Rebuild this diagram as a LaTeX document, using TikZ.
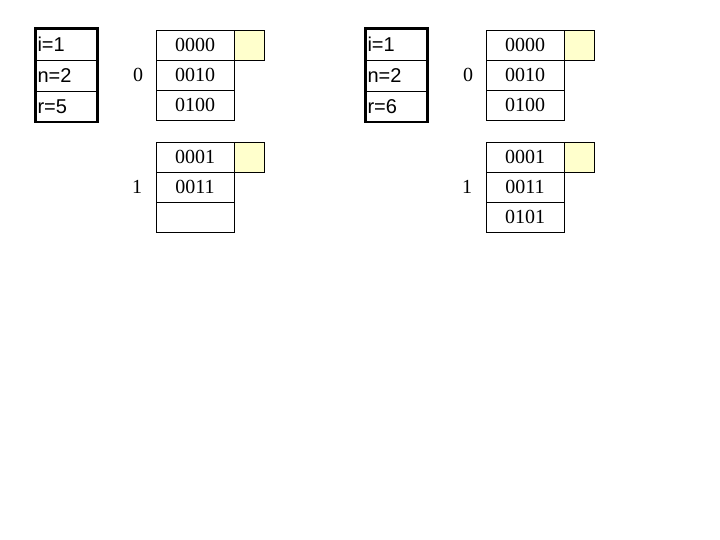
\documentclass[tikz,border=0pt]{standalone}
\usepackage{fontspec}
\setmainfont{Liberation Serif}
\setsansfont{Liberation Sans}
\definecolor{cellyellow}{RGB}{255,255,204}
\begin{document}
\begin{tikzpicture}[
  x=1pt, y=-1pt,
  cell/.style={
    draw,
    minimum width=78pt,
    minimum height=30pt,
    inner sep=0pt,
    font=\fontsize{20}{22}\selectfont
  },
  flag/.style={
    draw,
    fill=cellyellow,
    minimum width=30pt,
    minimum height=30pt,
    inner sep=0pt
  },
  reg/.style={
    draw,
    minimum width=62pt,
    minimum height=31pt,
    text width=58pt,
    inner sep=2pt,
    align=left,
    font=\sffamily\fontsize{20}{22}\selectfont
  },
  tag/.style={font=\fontsize{20}{22}\selectfont}
]
\useasboundingbox (0,0) rectangle (720,540);
% left state
\node[reg] (ai) at (66.5,44.5) {i=1};
\node[reg] (an) at (66.5,75.5) {n=2};
\node[reg] (ar) at (66.5,106.5) {r=5};
\draw[line width=2.6pt] (ai.north west) rectangle (ar.south east);
\node[tag] (a0) at (138,75) {0};
\node[cell] (a00) at (195,45) {0000};
\node[cell] (a01) at (195,75) {0010};
\node[cell] (a02) at (195,105) {0100};
\node[flag] (af0) at (249,45) {};
\node[tag] (a1) at (137,187) {1};
\node[cell] (a10) at (195,157) {0001};
\node[cell] (a11) at (195,187) {0011};
\node[cell] (a12) at (195,217) {};
\node[flag] (af1) at (249,157) {};
% right state
\node[reg] (bi) at (396.5,44.5) {i=1};
\node[reg] (bn) at (396.5,75.5) {n=2};
\node[reg] (br) at (396.5,106.5) {r=6};
\draw[line width=2.6pt] (bi.north west) rectangle (br.south east);
\node[tag] (b0) at (468,75) {0};
\node[cell] (b00) at (525,45) {0000};
\node[cell] (b01) at (525,75) {0010};
\node[cell] (b02) at (525,105) {0100};
\node[flag] (bf0) at (579,45) {};
\node[tag] (b1) at (467,187) {1};
\node[cell] (b10) at (525,157) {0001};
\node[cell] (b11) at (525,187) {0011};
\node[cell] (b12) at (525,217) {0101};
\node[flag] (bf1) at (579,157) {};
\end{tikzpicture}
\end{document}
